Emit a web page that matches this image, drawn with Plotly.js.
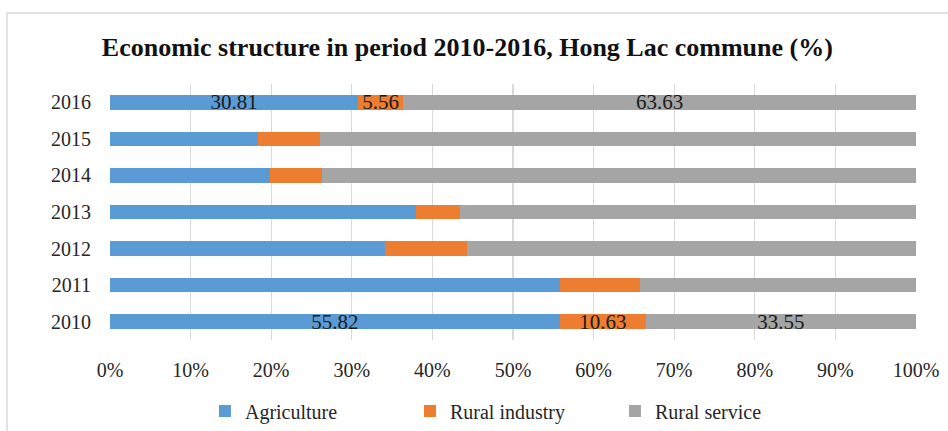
<!DOCTYPE html>
<html>
<head>
<meta charset="utf-8">
<script src="https://cdn.plot.ly/plotly-3.0.1.min.js"></script>
<style>
  html, body { margin: 0; padding: 0; background: #ffffff; }
  #chart { width: 948px; height: 431px; }
</style>
</head>
<body>
<div id="chart"></div>
<script>
// Data
const years = ['2010', '2011', '2012', '2013', '2014', '2015', '2016'];
const agriculture = [55.82, 55.8, 34.1, 38.0, 19.9, 18.4, 30.81];
const ruralIndustry = [10.63, 10.0, 10.2, 5.4, 6.4, 7.7, 5.56];
const ruralService = [33.55, 34.2, 55.7, 56.6, 73.7, 73.9, 63.63];
const labelledYears = ['2010', '2016'];
const seriesNames = ['Agriculture', 'Rural industry', 'Rural service'];
const xTickValues = [0, 10, 20, 30, 40, 50, 60, 70, 80, 90, 100];

const colors = ['#5b9bd5', '#ed7d31', '#a5a5a5'];
const serif = 'Liberation Serif';

function labels(values) {
  return values.map((v, i) => labelledYears.includes(years[i]) ? String(v) : '');
}

const seriesValues = [agriculture, ruralIndustry, ruralService];
const traces = seriesValues.map((vals, k) => ({
  type: 'bar',
  orientation: 'h',
  name: seriesNames[k],
  y: years,
  x: vals,
  text: labels(vals),
  textposition: 'inside',
  insidetextanchor: 'middle',
  constraintext: 'none',
  textfont: { family: serif, size: 21, color: '#1a1a1a' },
  marker: { color: colors[k], line: { width: 0 } },
  hoverinfo: 'skip'
}));

const layout = {
  width: 948,
  height: 431,
  margin: { l: 110, r: 32, t: 84, b: 91 },
  paper_bgcolor: '#ffffff',
  plot_bgcolor: '#ffffff',
  barmode: 'stack',
  bargap: 0.6,
  showlegend: true,
  font: { family: serif },
  title: {
    text: 'Economic structure in period 2010-2016, Hong Lac commune (%)',
    font: { family: serif, size: 26, color: '#111111', weight: 'bold' },
    x: 0.493,
    xref: 'container',
    xanchor: 'center',
    y: 0.891,
    yref: 'container',
    yanchor: 'middle'
  },
  xaxis: {
    range: [0, 100],
    tickvals: xTickValues,
    ticktext: xTickValues.map(v => v + '%'),
    showgrid: true,
    gridcolor: '#d9d9d9',
    gridwidth: 1.3,
    zeroline: false,
    showline: false,
    ticks: '',
    ticklabelstandoff: 16,
    automargin: false,
    tickfont: { family: serif, size: 20, color: '#262626' },
    fixedrange: true
  },
  yaxis: {
    type: 'category',
    categoryorder: 'array',
    categoryarray: years,
    showgrid: false,
    zeroline: false,
    showline: false,
    ticks: '',
    ticklabelstandoff: 18,
    automargin: false,
    tickfont: { family: serif, size: 20, color: '#262626' },
    fixedrange: true
  },
  legend: {
    orientation: 'h',
    xref: 'container',
    yref: 'container',
    x: 0.2162,
    xanchor: 'left',
    y: 0.0464,
    yanchor: 'middle',
    traceorder: 'normal',
    entrywidth: 160,
    entrywidthmode: 'pixels',
    font: { family: serif, size: 20, color: '#262626' },
    bgcolor: 'rgba(0,0,0,0)'
  },
  shapes: [{
    type: 'rect',
    xref: 'paper', yref: 'paper',
    x0: -0.1278, x1: 1.06,
    y0: -0.40, y1: 1.277,
    line: { color: '#d9d9d9', width: 1.5 },
    fillcolor: 'rgba(0,0,0,0)',
    layer: 'below'
  }]
};

Plotly.newPlot('chart', traces, layout, { staticPlot: true, displayModeBar: false });
</script>
</body>
</html>
